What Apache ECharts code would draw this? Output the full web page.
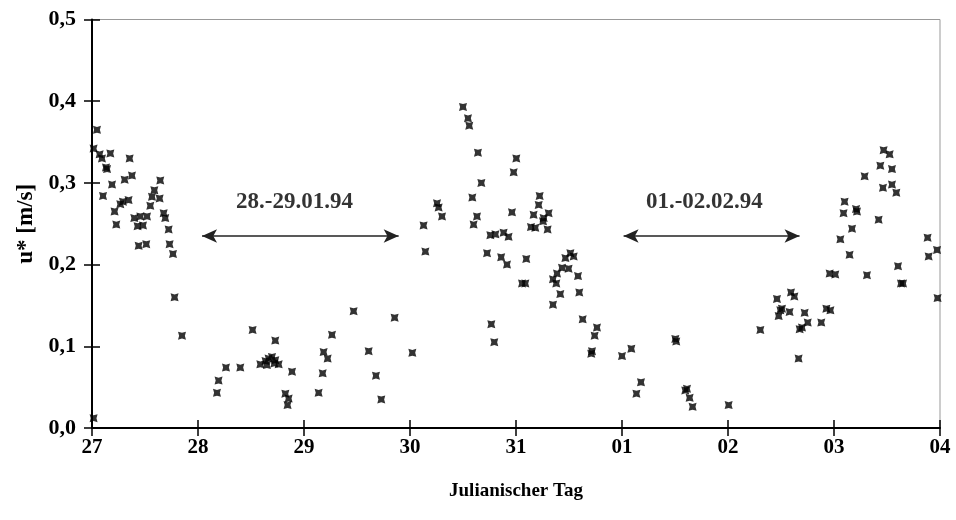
<!DOCTYPE html>
<html>
<head>
<meta charset="utf-8">
<script src="https://cdn.jsdelivr.net/npm/echarts@6/dist/echarts.min.js"></script>
<style>html,body{margin:0;padding:0;background:#fff}#c{width:956px;height:520px}</style>
</head>
<body>
<div id="c"></div>
<script>
// Days since 27 Jan 00:00
const dayOffset = [
0.015,0.047,0.015,0.072,0.094,0.173,0.132,0.142,0.189,0.104,0.355,0.377,0.308,0.292,0.267,0.213,0.229,0.345,0.399,0.456,
0.519,0.430,0.481,0.440,0.512,0.550,0.566,0.588,0.638,0.644,0.676,0.691,0.723,0.732,0.764,0.779,0.849,1.179,1.194,1.264,
1.399,1.515,1.729,1.588,1.637,1.666,1.698,1.729,1.761,1.650,1.720,1.887,1.824,1.855,1.845,
2.138,2.176,2.185,2.223,2.264,2.468,2.610,2.679,2.729,2.855,3.022,3.128,3.145,3.255,3.270,3.302,3.500,3.547,3.559,3.641,
3.673,3.588,3.632,3.600,3.758,3.727,3.806,3.767,3.795,
3.883,3.930,3.915,3.860,4.003,3.978,3.962,4.097,4.057,4.088,4.223,4.214,4.166,4.308,4.261,4.255,4.141,4.182,4.298,4.349,
4.387,4.380,4.434,4.466,4.513,4.544,4.496,4.418,4.349,4.585,4.597,4.629,4.764,4.742,4.717,4.710,5.000,5.088,5.179,5.136,
5.503,5.512,5.597,5.613,5.638,5.666,
6.006,6.305,6.462,6.478,6.494,6.509,6.581,6.594,6.626,6.723,6.752,6.676,6.698,6.666,6.880,6.928,6.966,6.959,7.012,7.060,
7.147,7.090,7.100,7.170,7.208,7.217,7.311,7.289,7.421,7.437,7.462,7.468,7.525,7.547,7.547,7.588,7.604,7.632,7.651,7.883,
7.893,7.972,7.977
];
const ustar = [
0.012,0.365,0.342,0.335,0.330,0.336,0.319,0.317,0.298,0.284,0.330,0.309,0.304,0.277,0.274,0.265,0.249,0.279,0.257,0.259,
0.259,0.247,0.248,0.223,0.225,0.272,0.283,0.291,0.281,0.303,0.263,0.257,0.243,0.225,0.213,0.160,0.113,0.043,0.058,0.074,
0.074,0.120,0.107,0.078,0.082,0.085,0.087,0.083,0.078,0.077,0.079,0.069,0.042,0.036,0.028,
0.043,0.067,0.093,0.085,0.114,0.143,0.094,0.064,0.035,0.135,0.092,0.248,0.216,0.275,0.270,0.259,0.393,0.379,0.370,0.337,
0.300,0.282,0.259,0.249,0.236,0.214,0.237,0.127,0.105,
0.239,0.234,0.200,0.209,0.330,0.313,0.264,0.207,0.177,0.177,0.284,0.273,0.261,0.263,0.257,0.253,0.246,0.245,0.243,0.182,
0.189,0.177,0.196,0.208,0.214,0.210,0.195,0.164,0.151,0.186,0.166,0.133,0.123,0.113,0.094,0.091,0.088,0.097,0.056,0.042,
0.109,0.106,0.046,0.048,0.037,0.026,
0.028,0.120,0.158,0.137,0.144,0.146,0.142,0.166,0.161,0.141,0.129,0.121,0.123,0.085,0.129,0.146,0.144,0.189,0.188,0.231,
0.212,0.263,0.277,0.244,0.268,0.265,0.187,0.308,0.255,0.321,0.294,0.340,0.335,0.317,0.298,0.288,0.198,0.177,0.177,0.233,
0.210,0.218,0.159
];
const tickLabels = ['27','28','29','30','31','01','02','03','04'];
const arrowStart = [1.038, 5.015];
const arrowEnd = [2.893, 6.675];
const arrowLevel = 0.235;
const periodLabels = ['28.-29.01.94', '01.-02.02.94'];
const periodLabelX = [1.91, 5.777];
const periodLabelY = 0.277;

const FONT = "'Liberation Serif', 'Times New Roman', serif";
const pts = dayOffset.map((d, i) => [d, ustar[i]]);
const chart = echarts.init(document.getElementById('c'), null, {renderer: 'canvas'});
const marker = 'path://M0,0 L5,1.4 L10,0 L8.6,5 L10,10 L5,8.6 L0,10 L1.4,5 Z';

const xBase = {type: 'value', min: 0, max: 8, interval: 1, splitLine: {show: false}};
const yBase = {type: 'value', min: 0, max: 0.5, interval: 0.1, splitLine: {show: false}};

chart.setOption({
  animation: false,
  backgroundColor: '#fff',
  grid: {left: 92, right: 16, top: 19.5, bottom: 92, show: true, borderColor: '#999', borderWidth: 1},
  xAxis: [
    Object.assign({}, xBase, {
      position: 'bottom',
      axisLine: {show: true, onZero: false, lineStyle: {color: '#000', width: 2}},
      axisTick: {show: true, length: 8, lineStyle: {color: '#000', width: 1.5}},
      axisLabel: {margin: 9, fontFamily: FONT, fontWeight: 'bold', fontSize: 21, color: '#000',
        formatter: v => tickLabels[Math.round(v)]},
      name: 'Julianischer Tag', nameLocation: 'middle', nameGap: 54,
      nameTextStyle: {fontFamily: FONT, fontWeight: 'bold', fontSize: 19, color: '#000'}
    }),
    Object.assign({}, xBase, {
      position: 'bottom',
      axisLine: {show: false},
      axisTick: {show: true, inside: true, length: 8, lineStyle: {color: '#000', width: 1.5}},
      axisLabel: {show: false}
    })
  ],
  yAxis: [
    Object.assign({}, yBase, {
      position: 'left',
      axisLine: {show: true, onZero: false, lineStyle: {color: '#000', width: 2}},
      axisTick: {show: true, length: 8, lineStyle: {color: '#000', width: 1.5}},
      axisLabel: {margin: 16, fontFamily: FONT, fontWeight: 'bold', fontSize: 22, color: '#000',
        formatter: v => v.toFixed(1).replace('.', ',')},
      name: 'u* [m/s]', nameLocation: 'middle', nameGap: 54, nameRotate: 90,
      nameTextStyle: {fontFamily: FONT, fontWeight: 'bold', fontSize: 23, color: '#000'}
    }),
    Object.assign({}, yBase, {
      position: 'left',
      axisLine: {show: false},
      axisTick: {show: true, inside: true, length: 8, lineStyle: {color: '#000', width: 1.5}},
      axisLabel: {show: false}
    })
  ],
  series: [
    {
      type: 'scatter',
      xAxisIndex: 0, yAxisIndex: 0,
      data: pts,
      symbol: marker,
      symbolSize: 8,
      itemStyle: {color: '#000'},
      z: 5
    },
    {
      type: 'line',
      xAxisIndex: 0, yAxisIndex: 0,
      data: [],
      markLine: {
        silent: true,
        symbol: ['arrow', 'arrow'],
        symbolSize: [10, 15],
        label: {show: false},
        lineStyle: {color: '#222', width: 1.5, type: 'solid'},
        data: arrowStart.map((s, i) => [{coord: [s, arrowLevel]}, {coord: [arrowEnd[i], arrowLevel]}])
      }
    },
    {
      type: 'scatter',
      xAxisIndex: 0, yAxisIndex: 0,
      symbolSize: 0,
      data: periodLabels.map((t, i) => ({name: t, value: [periodLabelX[i], periodLabelY]})),
      label: {show: true, position: 'inside', formatter: p => p.name,
        fontFamily: FONT, fontWeight: 'bold', fontSize: 23, color: '#000'},
      silent: true
    }
  ]
});
</script>
</body>
</html>
